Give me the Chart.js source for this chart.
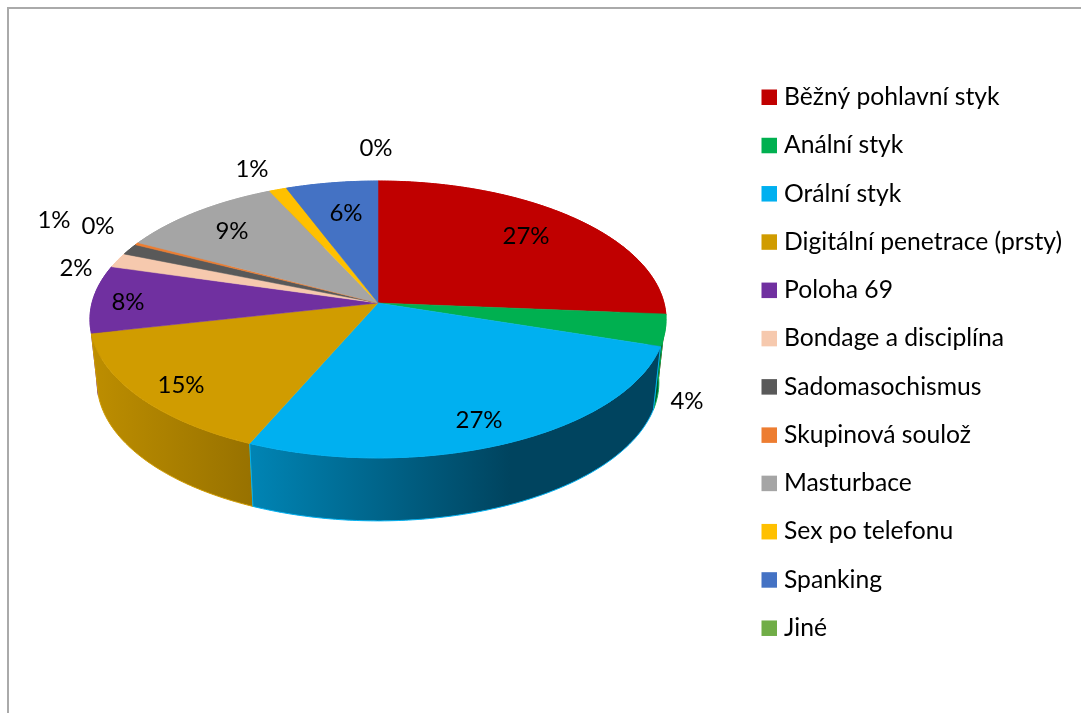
<!DOCTYPE html>
<html>
<head>
<meta charset="utf-8">
<script src="https://cdn.jsdelivr.net/npm/chart.js@4/dist/chart.umd.min.js"></script>
<style>
  html, body { margin: 0; padding: 0; background: #fff; overflow: hidden; }
  #wrap { position: relative; width: 1081px; height: 713px; }
  #frame { position: absolute; left: 7px; top: 7px; right: 0; bottom: 0; border-left: 2px solid #aaa; border-top: 2px solid #aaa; }
  canvas { position: absolute; left: 0; top: 0; }
</style>
</head>
<body>
<div id="wrap"><div id="frame"></div><canvas id="pie" width="1081" height="713"></canvas></div>
<script>
const categories = ["Běžný pohlavní styk", "Anální styk", "Orální styk", "Digitální penetrace (prsty)", "Poloha 69",
    "Bondage a disciplína", "Sadomasochismus", "Skupinová soulož", "Masturbace", "Sex po telefonu", "Spanking", "Jiné"];
const values = [26.3, 3.7, 26.6, 15, 7.9, 1.7, 1.3, 0.3, 10.4, 1.1, 5.8, 0];
const percentLabels = ["27%", "4%", "27%", "15%", "8%", "2%", "1%", "0%", "9%", "1%", "6%", "0%"];
const colors = ['#C00000', '#00B050', '#00B0F0', '#D09C00', '#7030A0', '#F6C9AE', '#595959', '#ED7D31', '#A5A5A5', '#FFC000', '#4472C4', '#70AD47'];

// where each percentage sits
const labelSpots = [[526, 236], [687, 401], [479, 420], [181, 385], [128, 302], [76, 268],
    [54, 220], [98, 226], [232, 231], [252, 169], [346, 213], [376, 148]];

// side wall shading: [left colour, right colour, gradient from x, gradient to x]
const wallShades = {
    1: ['#006B35', '#004A25', 650, 665],
    2: ['#0084B4', '#00445F', 252, 510],
    3: ['#BC8D00', '#987200', 96, 250],
    4: ['#7D45A8', '#55247A', 90, 98]
};

// perspective of the pie's top face
const cx = 378, apexY = 303, persp = -0.119, yGain = 100.4, xGain = 286;
const wallDepth = 63, wallInset = 0.975;

function topPoint(a) {
    const u = Math.cos(a), v = Math.sin(a), w = 1 + persp * v;
    return [cx + xGain * u / w, (yGain * v + apexY) / w];
}
function bottomPoint(a) {
    const p = topPoint(a);
    return [cx + (p[0] - cx) * wallInset, p[1] + wallDepth];
}
function rimAngles(start, end) {
    const n = Math.max(2, Math.ceil((end - start) * 90));
    const out = [];
    for (let i = 0; i <= n; i++) out.push(start + (end - start) * i / n);
    return out;
}

const pie3d = {
    id: 'pie3d',
    beforeDatasetDraw(chart, args) {
        const ctx = chart.ctx;
        const arcs = chart.getDatasetMeta(args.index).data;
        ctx.save();
        ctx.lineJoin = 'round';

        // walls, back to front
        const order = arcs.map((arc, i) => i).filter(i => values[i] > 0).sort((a, b) =>
            Math.sin((arcs[a].startAngle + arcs[a].endAngle) / 2) - Math.sin((arcs[b].startAngle + arcs[b].endAngle) / 2));
        order.forEach(i => {
            const angles = rimAngles(arcs[i].startAngle, arcs[i].endAngle);
            ctx.beginPath();
            angles.forEach((a, k) => { const p = topPoint(a); k ? ctx.lineTo(p[0], p[1]) : ctx.moveTo(p[0], p[1]); });
            angles.slice().reverse().forEach(a => { const p = bottomPoint(a); ctx.lineTo(p[0], p[1]); });
            ctx.closePath();
            const shade = wallShades[i];
            if (shade) {
                const g = ctx.createLinearGradient(shade[2], 0, shade[3], 0);
                g.addColorStop(0, shade[0]);
                g.addColorStop(1, shade[1]);
                ctx.fillStyle = g;
            } else {
                ctx.fillStyle = colors[i];
            }
            ctx.fill();
            ctx.strokeStyle = colors[i];
            ctx.lineWidth = 1;
            ctx.stroke();
        });

        // top face
        arcs.forEach((arc, i) => {
            if (values[i] <= 0) return;
            ctx.beginPath();
            ctx.moveTo(cx, apexY);
            rimAngles(arc.startAngle, arc.endAngle).forEach(a => { const p = topPoint(a); ctx.lineTo(p[0], p[1]); });
            ctx.closePath();
            ctx.fillStyle = colors[i];
            ctx.fill();
            ctx.strokeStyle = colors[i];
            ctx.lineWidth = 0.5;
            ctx.stroke();
        });
        ctx.restore();
        return false;
    },
    afterDatasetsDraw(chart) {
        const ctx = chart.ctx;
        ctx.save();
        ctx.fillStyle = '#000';
        ctx.font = '24px Lato';
        ctx.textAlign = 'center';
        ctx.textBaseline = 'middle';
        percentLabels.forEach((t, i) => ctx.fillText(t, labelSpots[i][0], labelSpots[i][1]));

        // legend, box and text closer together than the built-in one allows
        ctx.font = '24.7px Lato';
        ctx.textAlign = 'left';
        ctx.textBaseline = 'alphabetic';
        categories.forEach((name, i) => {
            const base = 105 + i * 48.27;
            ctx.fillStyle = colors[i];
            ctx.fillRect(761.5, base - 15.5, 15.5, 15.5);
            ctx.fillStyle = '#000';
            ctx.fillText(name, 784, base);
        });
        ctx.restore();
    }
};

new Chart(document.getElementById('pie'), {
    type: 'pie',
    data: {
        labels: categories,
        datasets: [{ data: values, backgroundColor: colors, borderWidth: 0 }]
    },
    options: {
        responsive: false,
        animation: false,
        plugins: {
            tooltip: { enabled: false },
            legend: { display: false }
        }
    },
    plugins: [pie3d]
});
</script>
</body>
</html>
